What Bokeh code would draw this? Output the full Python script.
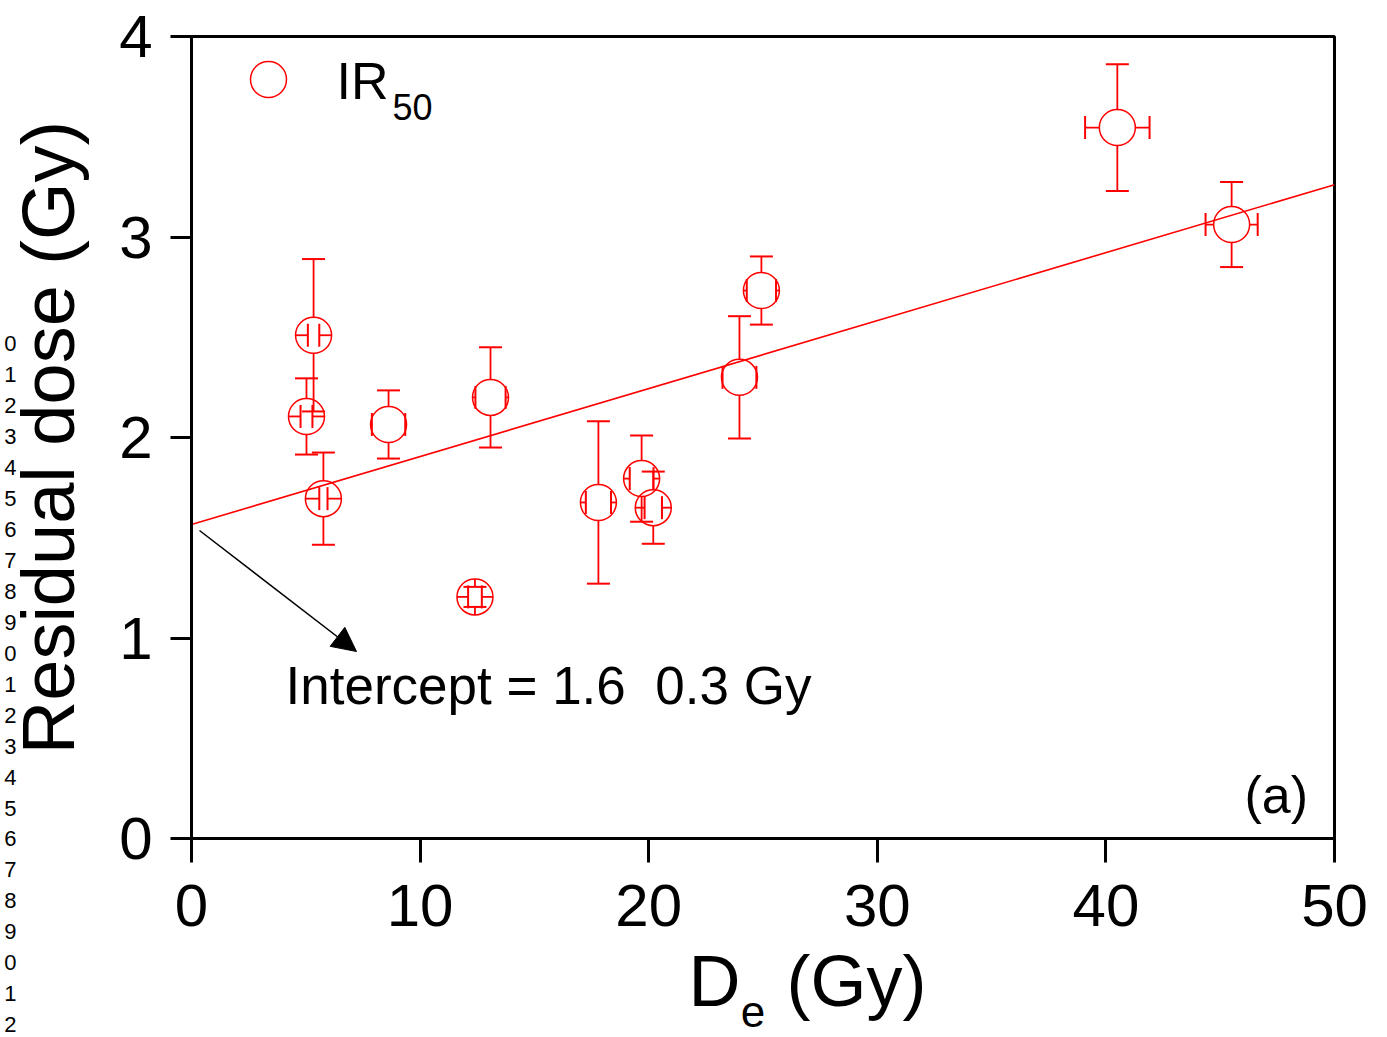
import math
from bokeh.plotting import figure
from bokeh.models import (Range1d, FixedTicker, Label, LinearAxis, Arrow, NormalHead)
from bokeh.embed import file_html
from bokeh.resources import INLINE

# ---- data ----
de = [5.34, 5.03, 5.77, 8.62, 12.40, 13.08, 17.80, 19.69, 20.20, 23.97, 24.93, 40.50, 45.50]
resid = [2.51, 2.105, 1.695, 2.065, 1.205, 2.20, 1.676, 1.795, 1.65, 2.30, 2.733, 3.546, 3.062]
resid_err = [0.38, 0.19, 0.23, 0.17, 0.05, 0.25, 0.405, 0.215, 0.18, 0.305, 0.17, 0.316, 0.212]
de_err = [0.25, 0.26, 0.18, 0.73, 0.30, 0.66, 0.55, 0.52, 0.38, 0.74, 0.64, 1.41, 1.14]

fit_intercept = 1.566
fit_slope = 0.0339

x_ticks = [0, 10, 20, 30, 40, 50]
y_ticks = [0, 1, 2, 3, 4]

stray_digits = [str(i % 10) for i in range(23)]

FONT = "Liberation Sans"
RED = "#ff0000"

W, H = 1387, 1037
BL, BR, BT, BB = 191, 53, 36, 199
fw, fh = W - BL - BR, H - BT - BB
X0, X1, Y0, Y1 = 0, 50, 0, 4
pxx = fw / (X1 - X0)   # pixels per x unit
pxy = fh / (Y1 - Y0)   # pixels per y unit
SHIFT = 0.38           # baseline correction, fraction of font size


def sx(px):
    return X0 + (px - BL) / pxx


def sy(py):
    return Y0 + (BT + fh - py) / pxy


p = figure(width=W, height=H, output_backend="svg", toolbar_location=None,
           x_range=Range1d(X0, X1), y_range=Range1d(Y0, Y1),
           min_border_left=BL, min_border_right=BR, min_border_top=BT, min_border_bottom=BB)
p.background_fill_color = "white"
p.border_fill_color = "white"
p.grid.visible = False
p.outline_line_color = "black"
p.outline_line_width = 3

for ax, ticks in ((p.xaxis[0], x_ticks), (p.yaxis[0], y_ticks)):
    ax.ticker = FixedTicker(ticks=ticks)
    ax.axis_line_width = 3
    ax.major_tick_line_width = 3
    ax.major_tick_in = 0
    ax.minor_tick_line_color = None
    ax.major_label_text_font = FONT
    ax.major_label_text_font_size = "60px"
    ax.major_label_text_color = "black"
p.xaxis[0].major_tick_out = 24
p.xaxis[0].major_label_standoff = 22
p.yaxis[0].major_tick_out = 21
p.yaxis[0].major_label_standoff = 18

# y axis title
p.yaxis[0].axis_label = "Residual dose (Gy)"
p.yaxis[0].axis_label_text_font = FONT
p.yaxis[0].axis_label_text_font_size = "74px"
p.yaxis[0].axis_label_text_font_style = "normal"
p.yaxis[0].axis_label_text_color = "black"
p.yaxis[0].axis_label_standoff = 26


def text_axis(side, ticks, labels, size, standoff, line_height=1.2):
    ax = LinearAxis(ticker=FixedTicker(ticks=ticks),
                    major_label_overrides={t: s for t, s in zip(ticks, labels)},
                    axis_line_color=None, major_tick_line_color=None,
                    minor_tick_line_color=None, major_tick_in=0, major_tick_out=0,
                    major_label_standoff=int(standoff), major_label_text_font=FONT,
                    major_label_text_font_size=f"{size}px", major_label_text_color="black",
                    major_label_text_line_height=line_height)
    p.add_layout(ax, side)
    return ax


# x axis title "D_e (Gy)" as label rows under the tick labels
text_axis("below", [sx(714), sx(856)], ["D", "(Gy)"], 72, 12)
text_axis("below", [sx(752.5)], ["e"], 44, -28)

# stray digit column at the far left: the ones beside the frame one per tick,
# the ones below the frame as one block hanging from the lowest tick
DIG_Y0, DIG_DY = 343, 31.0
n_in = sum(1 for i in range(len(stray_digits)) if DIG_Y0 + DIG_DY * i <= BT + fh - 1)
text_axis("left", [sy(DIG_Y0 + DIG_DY * i) for i in range(n_in)],
          stray_digits[:n_in], 22, -12)
rest = stray_digits[n_in:]
block = "\n".join(["\u00a0"] * (len(rest) - 1) + rest)
text_axis("left", [sy(BT + fh)], [block], 22, -15, line_height=1.242)

# fit line
fx = [X0, X1]
fy = [fit_intercept + fit_slope * v for v in fx]
p.line(fx, fy, line_color=RED, line_width=1.6)

# error bars drawn from circle edge outward (Origin style)
R_PX = 18
rx = R_PX / pxx
ry = R_PX / pxy
vx0, vy0, vx1, vy1 = [], [], [], []
hx0, hy0, hx1, hy1 = [], [], [], []
for x, y, ey, ex in zip(de, resid, resid_err, de_err):
    vx0 += [x, x]; vx1 += [x, x]
    vy0 += [y + ry, y - ry]; vy1 += [y + ey, y - ey]
    hy0 += [y, y]; hy1 += [y, y]
    hx0 += [x + rx, x - rx]; hx1 += [x + ex, x - ex]
p.segment(vx0, vy0, vx1, vy1, line_color=RED, line_width=1.8)
p.segment(hx0, hy0, hx1, hy1, line_color=RED, line_width=1.8)

cap_vx = [x for x in de for _ in (0, 1)]
cap_vy = [v for y, e in zip(resid, resid_err) for v in (y + e, y - e)]
p.scatter(cap_vx, cap_vy, marker="dash", size=23, line_color=RED, line_width=2)
cap_hx = [v for x, e in zip(de, de_err) for v in (x + e, x - e)]
cap_hy = [y for y in resid for _ in (0, 1)]
p.scatter(cap_hx, cap_hy, marker="dash", size=23, angle=math.pi / 2,
          line_color=RED, line_width=2)

p.scatter(de, resid, marker="circle", size=2 * R_PX, fill_color=None,
          line_color=RED, line_width=1.5)


def text(px, py, t, size, angle=0.0, align="left"):
    # px, py: left edge and alphabetic baseline, in picture pixels
    py = py - SHIFT * size
    p.add_layout(Label(x=sx(px), y=sy(py), text=t, angle=angle, text_font=FONT,
                       text_font_size=f"{size}px", text_color="black",
                       text_align=align, text_baseline="alphabetic"))


# legend
p.scatter([sx(268)], [sy(79)], marker="circle", size=2 * R_PX, fill_color=None,
          line_color=RED, line_width=1.5)
text(336, 100, "IR", 52)
text(392, 120, "50", 36)

# panel label
text(1244, 814, "(a)", 52)

# intercept annotation
p.add_layout(Arrow(x_start=sx(199), y_start=sy(530), x_end=sx(356), y_end=sy(651),
                   line_color="black", line_width=1.5,
                   end=NormalHead(size=24, fill_color="black", line_color="black")))
text(285, 705, "Intercept = 1.6\u00a0\u00a00.3 Gy", 53)

open("out.html", "w").write(file_html(p, INLINE))
